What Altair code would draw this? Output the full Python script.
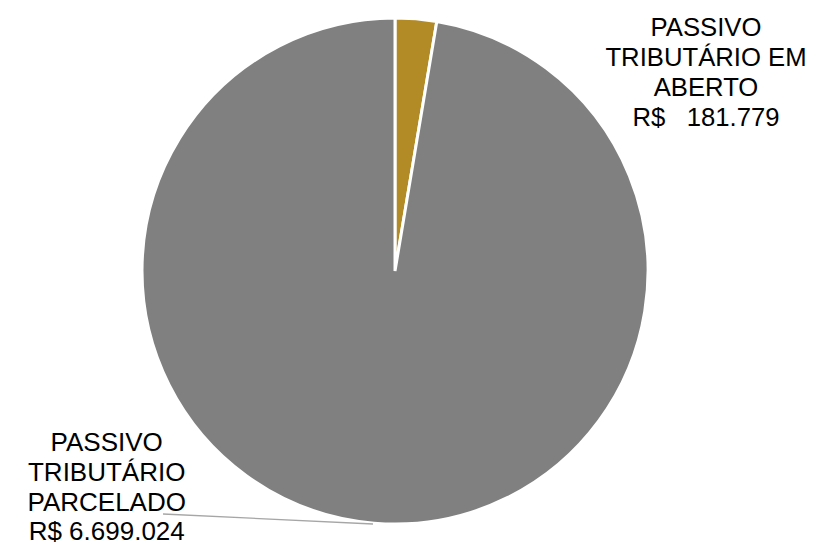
import altair as alt
import pandas as pd

categories = ["PASSIVO TRIBUTÁRIO EM ABERTO", "PASSIVO TRIBUTÁRIO PARCELADO"]
values = [181779, 6699024]
label_lines = [
    ["PASSIVO", "TRIBUTÁRIO EM", "ABERTO", "R$\u00a0\u00a0\u00a0181.779"],
    ["PASSIVO", "TRIBUTÁRIO", "PARCELADO", "R$ 6.699.024"],
]
colors = ["#B38B26", "#808080"]

df = pd.DataFrame({"cat": categories, "val": values, "order": [0, 1]})

W, H = 799, 539
CX, CY, R = 387, 263, 253

pie = alt.Chart(df).mark_arc(outerRadius=R, stroke="white", strokeWidth=3).encode(
    theta=alt.Theta("val:Q", stack=True),
    order=alt.Order("order:Q"),
    color=alt.Color("cat:N", scale=alt.Scale(domain=categories, range=colors), legend=None),
    x=alt.value(CX),
    y=alt.value(CY),
)

leader = alt.Chart(pd.DataFrame({"a": [0]})).mark_rule(color="#A6A6A6", strokeWidth=1.3).encode(
    x=alt.value(155), y=alt.value(506), x2=alt.value(365), y2=alt.value(516)
)

def label(i, x, y, fs, lh):
    d = pd.DataFrame({"t": ["\n".join(label_lines[i])]})
    return alt.Chart(d).mark_text(
        font="Liberation Sans", fontSize=fs, lineBreak="\n", lineHeight=lh,
        align="center", baseline="alphabetic", color="#000000"
    ).encode(text="t:N", x=alt.value(x), y=alt.value(y))

chart = alt.layer(
    pie, leader,
    label(0, 698, 27.7, 25.7, 30.1),
    label(1, 98.7, 443, 26, 29.8),
).properties(
    width=W, height=H, autosize=alt.AutoSizeParams(type="none"), padding=0
).configure_view(stroke=None)

chart.save("out.html", embed_options={"renderer": "svg", "actions": False})
